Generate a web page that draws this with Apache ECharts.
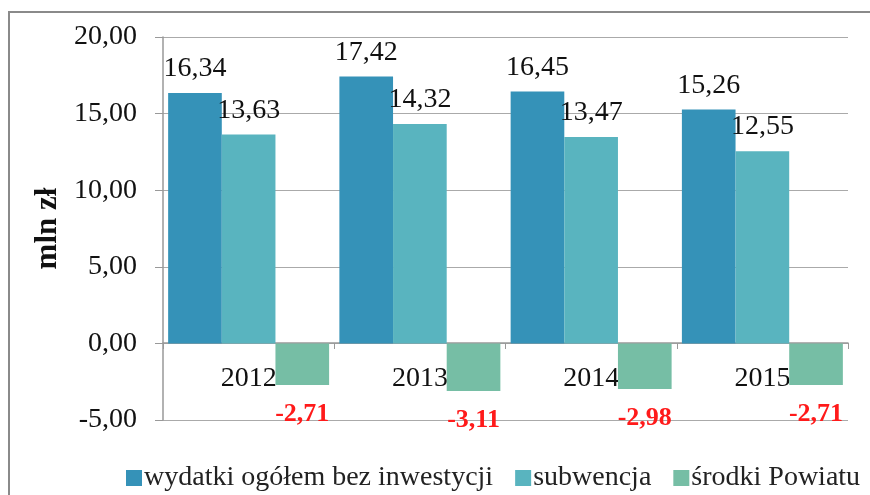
<!DOCTYPE html>
<html>
<head>
<meta charset="utf-8">
<script src="https://cdn.jsdelivr.net/npm/echarts@6/dist/echarts.min.js"></script>
<style>
  html, body { margin: 0; padding: 0; background: #fff; }
  #chart { width: 870px; height: 495px; }
</style>
</head>
<body>
<div id="chart"></div>
<script>
const years = ['2012', '2013', '2014', '2015'];
const wydatki = [16.34, 17.42, 16.45, 15.26];
const subwencja = [13.63, 14.32, 13.47, 12.55];
const srodki = [-2.71, -3.11, -2.98, -2.71];

const serif = '"Liberation Serif", "DejaVu Serif", serif';
const fmt = v => v.toFixed(2).replace('.', ',');

const posLabel = {
    show: true,
    position: 'top',
    distance: 10,
    color: '#111',
    fontFamily: serif,
    fontSize: 28,
    formatter: p => fmt(p.value)
};

const chart = echarts.init(document.getElementById('chart'));
chart.setOption({
    animation: false,
    graphic: [{
        type: 'rect',
        shape: { x: 9, y: 12, width: 900, height: 520 },
        style: { fill: 'none', stroke: '#8a8a8a', lineWidth: 2 },
        silent: true
    }],
    grid: { left: 163, right: 22, top: 37, bottom: 75 },
    legend: {
        left: 121,
        top: 459,
        itemWidth: 16,
        itemHeight: 16,
        itemGap: 22,
        icon: 'rect',
        textStyle: { fontFamily: serif, fontSize: 28, color: '#222', padding: [0, 0, 0, -3] },
        data: ['wydatki ogółem bez inwestycji', 'subwencja', 'środki Powiatu']
    },
    xAxis: {
        type: 'category',
        data: years,
        offset: -77,
        axisLine: { onZero: false, lineStyle: { color: '#999', width: 1.5 } },
        axisTick: { show: true, length: 6, lineStyle: { color: '#999' } },
        axisLabel: { margin: 22, color: '#111', fontFamily: serif, fontSize: 28 }
    },
    yAxis: {
        type: 'value',
        min: -5,
        max: 20,
        interval: 5,
        name: 'mln zł',
        nameLocation: 'middle',
        nameRotate: 90,
        nameGap: 90,
        nameTextStyle: { fontFamily: serif, fontSize: 31, fontWeight: 'bold', color: '#111' },
        axisLine: { show: true, lineStyle: { color: '#999', width: 1.5 } },
        axisTick: { show: true, length: 8, lineStyle: { color: '#999' } },
        splitLine: { lineStyle: { color: '#aaa', width: 1.2 } },
        axisLabel: {
            margin: 26,
            color: '#111',
            fontFamily: serif,
            fontSize: 28,
            formatter: v => fmt(v)
        }
    },
    series: [
        {
            name: 'wydatki ogółem bez inwestycji',
            type: 'bar',
            data: wydatki,
            barGap: '0%',
            barCategoryGap: '6%',
            itemStyle: { color: '#3592b8' },
            label: posLabel
        },
        {
            name: 'subwencja',
            type: 'bar',
            data: subwencja,
            itemStyle: { color: '#59b4bf' },
            label: posLabel
        },
        {
            name: 'środki Powiatu',
            type: 'bar',
            data: srodki,
            itemStyle: { color: '#76bea5' },
            label: {
                show: true,
                position: 'bottom',
                distance: 16,
                color: '#ff1a1a',
                fontWeight: 'bold',
                fontFamily: serif,
                fontSize: 26,
                formatter: p => fmt(p.value)
            }
        }
    ]
});
</script>
</body>
</html>
